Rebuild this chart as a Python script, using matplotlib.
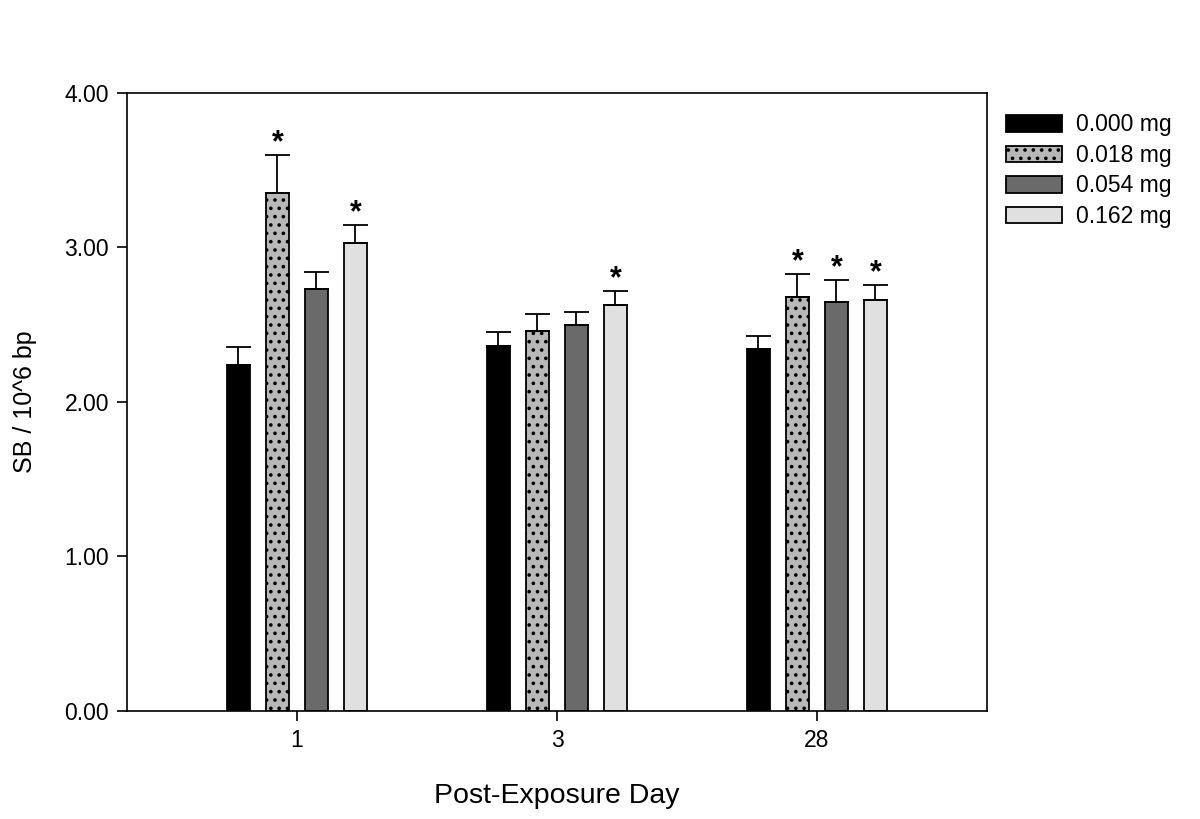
import matplotlib
matplotlib.use("Agg")
import matplotlib.pyplot as plt
import numpy as np

plt.rcParams["font.family"] = ["Liberation Sans", "DejaVu Sans"]
plt.rcParams["hatch.linewidth"] = 1.4

days = ["1", "3", "28"]
doses = ["0.000 mg", "0.018 mg", "0.054 mg", "0.162 mg"]
means = {
    "0.000 mg": [2.24, 2.36, 2.34],
    "0.018 mg": [3.35, 2.46, 2.68],
    "0.054 mg": [2.73, 2.50, 2.65],
    "0.162 mg": [3.03, 2.63, 2.66],
}
errors = {
    "0.000 mg": [0.115, 0.09, 0.085],
    "0.018 mg": [0.25, 0.11, 0.15],
    "0.054 mg": [0.11, 0.08, 0.14],
    "0.162 mg": [0.115, 0.09, 0.095],
}
significant = {
    "0.000 mg": [False, False, False],
    "0.018 mg": [True, False, True],
    "0.054 mg": [False, False, True],
    "0.162 mg": [True, True, True],
}
colors = ["#000000", "#b8b8b8", "#6a6a6a", "#e0e0e0"]
hatches = [None, "..", None, None]

fig = plt.figure(figsize=(12, 8.19), dpi=100)
ax = fig.add_axes([0.1058, 0.1319, 0.7167, 0.7546])

x = np.arange(len(days))
width = 0.092
step = 0.15
for i, dose in enumerate(doses):
    pos = x + (i - 1.5) * step
    ax.bar(pos, means[dose], width=width, color=colors[i], edgecolor="black",
           linewidth=1.3, hatch=hatches[i], label=dose, zorder=2)
    ax.errorbar(pos, means[dose], yerr=[np.zeros(len(days)), errors[dose]],
                fmt="none", ecolor="black", elinewidth=1.3, capsize=9,
                capthick=1.3, zorder=3)
    for p, m, e, s in zip(pos, means[dose], errors[dose], significant[dose]):
        if s:
            ax.text(p, m + e - 0.02, "*", ha="center", va="bottom",
                    fontsize=22, fontweight="bold")

ax.set_xlim(-0.654, 2.654)
ax.set_ylim(0, 4)
ax.set_xticks(x)
ax.set_xticklabels(days)
ax.set_yticks([0, 1, 2, 3, 4])
ax.set_yticklabels([f"{v:.2f}" for v in [0, 1, 2, 3, 4]])
ax.tick_params(axis="both", direction="out", length=7, width=1.2, labelsize=16.5,
               top=False, right=False, pad=6)
for sp in ax.spines.values():
    sp.set_linewidth(1.2)

ax.set_xlabel("Post-Exposure Day", fontsize=20.5, labelpad=22)
ax.set_ylabel("SB / 10^6 bp", fontsize=18, labelpad=20)

ax.legend(loc="upper left", bbox_to_anchor=(1.022, 0.967), frameon=False,
          fontsize=16.5, handlelength=2.45, handleheight=0.75, labelspacing=0.33,
          handletextpad=0.6, borderaxespad=0, borderpad=0)

fig.savefig("out.png", dpi=100)
